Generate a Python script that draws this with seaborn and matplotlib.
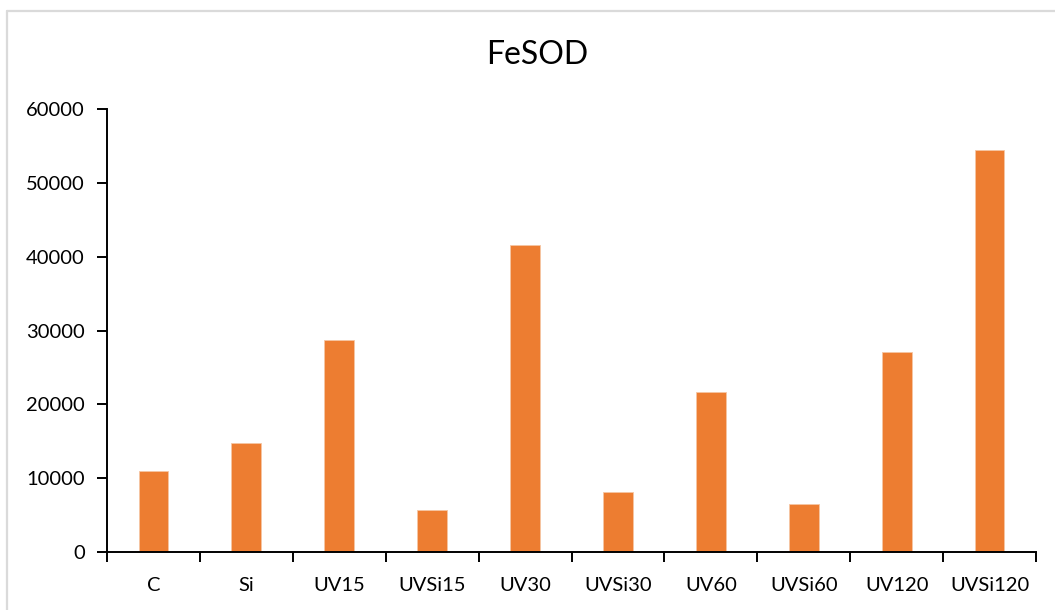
import matplotlib
matplotlib.use("Agg")
import matplotlib.pyplot as plt
from matplotlib.lines import Line2D
import seaborn as sns
import pandas as pd
import numpy as np

# FeSOD activity per treatment
categories = ["C", "Si", "UV15", "UVSi15", "UV30", "UVSi30", "UV60", "UVSi60", "UV120", "UVSi120"]
values = [11000, 14800, 28700, 5700, 41600, 8100, 21700, 6500, 27100, 54400]
y_ticks = [0, 10000, 20000, 30000, 40000, 50000, 60000]

sns.set_theme(style="white")
plt.rcParams["font.family"] = ["Lato", "DejaVu Sans"]

df = pd.DataFrame({"treatment": categories, "fesod": values})

fig = plt.figure(figsize=(10.55, 6.10), dpi=100)
ax = fig.add_axes([107 / 1055, 58 / 610, (1036 - 107) / 1055, (552 - 109) / 610])

sns.barplot(data=df, x="treatment", y="fesod", order=categories, color="#ED7D31",
            saturation=1, width=0.32, edgecolor="#F6C6A4", linewidth=0.6, ax=ax)

ax.set_xlim(-0.5, len(categories) - 0.5)
ax.set_ylim(0, 60000)
ax.set_yticks(y_ticks)
ax.set_yticklabels([str(t) for t in y_ticks], fontsize=14.5, color="black")
ax.set_xlabel("")
ax.set_ylabel("")

# category labels centred, tick marks between categories
ax.set_xticks(np.arange(len(categories)))
ax.set_xticklabels(categories, fontsize=14.5, color="black")
ax.set_xticks(np.arange(len(categories) + 1) - 0.5, minor=True)
ax.tick_params(axis="x", which="major", length=0, pad=18)
ax.tick_params(axis="x", which="minor", length=7, width=1.4, color="black", direction="out", bottom=True)
ax.tick_params(axis="y", which="major", length=7, width=1.4, color="black", direction="out", left=True, pad=9)

for side in ["top", "right"]:
    ax.spines[side].set_visible(False)
for side in ["left", "bottom"]:
    ax.spines[side].set_color("black")
    ax.spines[side].set_linewidth(1.4)
ax.grid(False)

fig.text(537 / 1055, 1 - 55 / 610, "FeSOD", ha="center", va="center", fontsize=23, color="black")

# light frame around the chart area
fig.add_artist(Line2D([7 / 1055, 1.0], [1 - 11 / 610, 1 - 11 / 610], transform=fig.transFigure,
                      color="#DADADA", linewidth=1.6))
fig.add_artist(Line2D([7 / 1055, 7 / 1055], [0.0, 1 - 11 / 610], transform=fig.transFigure,
                      color="#DADADA", linewidth=1.6))

fig.savefig("out.png", dpi=100)
